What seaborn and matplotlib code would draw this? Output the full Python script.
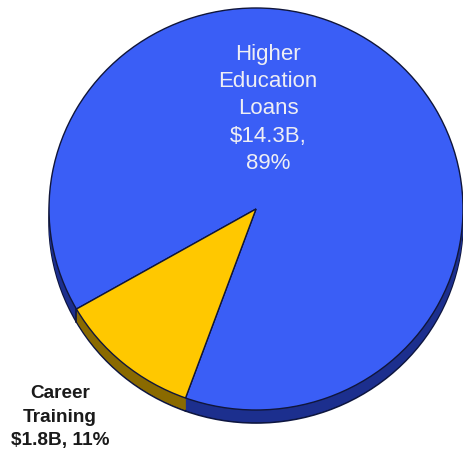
import numpy as np
import matplotlib
matplotlib.use("Agg")
import matplotlib.pyplot as plt
import seaborn as sns

# Loan volumes by program type, billions of dollars
categories = ["Higher Education Loans", "Career Training"]
amounts = [14.3, 1.8]
label_lines = [["Higher", "Education", "Loans"], ["Career", "Training"]]

top_colors = ["#3A5EF6", "#FFC800"]
side_colors = ["#1C2F8E", "#8A6A00"]

sns.set_theme(style="white")
plt.rcParams["font.family"] = ["Liberation Sans", "DejaVu Sans"]

W, H, DPI = 463, 450, 100
fig = plt.figure(figsize=(W / DPI, H / DPI), dpi=DPI)
ax = fig.add_axes([0, 0, 1, 1])

# y is stretched so a circular pie renders as a slightly flattened ellipse
k = 207 / 201
cx, cy = 256, (H - 209) * k
radius = 207
depth = 13
start = 250.1

total = sum(amounts)
pcts = [round(100 * a / total) for a in amounts]

# side wall: stacked copies of the pie shifted downward
for d in range(depth, 0, -1):
    edge = "#0E1640" if d == depth else "none"
    lw = 1.2 if d == depth else 0
    ax.pie(amounts, colors=side_colors, startangle=start, radius=radius,
           center=(cx, cy - d * k), frame=True,
           wedgeprops=dict(edgecolor=edge, linewidth=lw))

# top face
ax.pie(amounts, colors=top_colors, startangle=start, radius=radius,
       center=(cx, cy), frame=True,
       wedgeprops=dict(edgecolor="#10163A", linewidth=1.0))

# divider on the side wall where the two slices meet at the front
bound = np.deg2rad(start + 360 * amounts[0] / total)
bx = cx + radius * np.cos(bound)
by = cy + radius * np.sin(bound)
ax.plot([bx, bx], [by, by - depth * k], color="#10163A", lw=1.2)

ax.set_xlim(0, W)
ax.set_ylim(0, H * k)
ax.set_aspect("auto")
ax.axis("off")

# slice labels
big = "\n".join(label_lines[0] + [f"${amounts[0]}B,", f"{pcts[0]}%"])
ax.text(268, (H - 109) * k, big, ha="center", va="center", fontsize=16,
        color="#EEEEF4", linespacing=1.40)

small = "\n".join(label_lines[1] + [f"${amounts[1]}B, {pcts[1]}%"])
ax.text(60, (H - 417) * k, small, ha="center", va="center", fontsize=13.7,
        fontweight="bold", color="#1A1A1A", linespacing=1.50)

fig.savefig("out.png", dpi=DPI, facecolor="white")
